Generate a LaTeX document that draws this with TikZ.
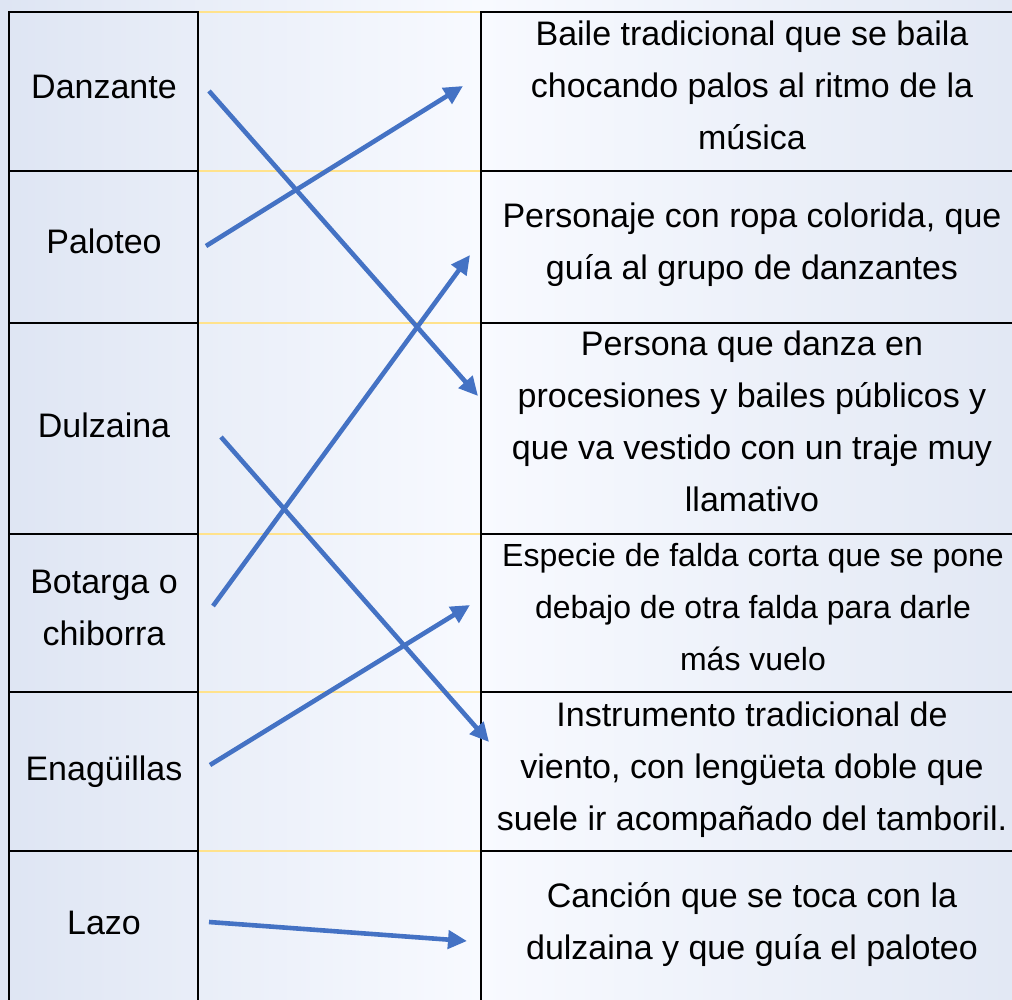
\documentclass[tikz,border=0pt]{standalone}
\usepackage{fontspec}
\setmainfont{Liberation Sans}
\usetikzlibrary{arrows.meta}
\definecolor{bgl}{RGB}{222,229,243}
\definecolor{bgm}{RGB}{248,250,255}
\definecolor{bgr}{RGB}{226,232,244}
\definecolor{gridyellow}{RGB}{255,226,140}
\definecolor{arrowblue}{RGB}{68,114,196}
\begin{document}
\begin{tikzpicture}[x=1pt,y=-1pt,
  cell/.style={font=\fontsize{34}{52}\selectfont, align=center, inner sep=0pt, text=black},
  border/.style={black, line width=2pt},
  rowline/.style={gridyellow, line width=2pt},
  link/.style={arrowblue, line width=4.6pt, -{Triangle[length=19pt,width=18pt]}}]
\useasboundingbox (0,0) rectangle (1012,999);
% background
\fill[left color=bgl, right color=bgm] (0,0) rectangle (481,999);
\fill[left color=bgm, right color=bgr] (481,0) rectangle (1012,999);
\begin{scope}
\clip (0,0) rectangle (1012,999);
% yellow row lines in the middle column
\foreach \y in {12,171,323,534,692,851}
  \draw[rowline] (198,\y) -- (481,\y);
% black grid
\foreach \y in {12,171,323,534,692,851} {
  \draw[border] (8,\y) -- (199,\y);
  \draw[border] (480,\y) -- (1020,\y);
}
\draw[border] (9,11) -- (9,1010);
\draw[border] (198,11) -- (198,1010);
\draw[border] (481,11) -- (481,1010);
\end{scope}
% left column words
\node[cell] (w1) at (104,87.6) {\strut Danzante};
\node[cell] (w2) at (104,242.6) {\strut Paloteo};
\node[cell] (w3) at (104,426.6) {\strut Dulzaina};
\node[cell] (w4) at (104,608.6) {\strut Botarga o\\\strut chiborra};
\node[cell] (w5) at (104,769.6) {\strut Enagüillas};
\node[cell] (w6) at (104,923.6) {\strut Lazo};
% right column definitions
\node[cell] (d1) at (752,86.6) {\strut Baile tradicional que se baila\\chocando palos al ritmo de la\\\strut música};
\node[cell] (d2) at (752,243.1) {\strut Personaje con ropa colorida, que\\\strut guía al grupo de danzantes};
\node[cell] (d3) at (752,423.1) {\strut Persona que danza en\\procesiones y bailes públicos y\\que va vestido con un traje muy\\\strut llamativo};
\node[cell, font=\fontsize{32}{52}\selectfont] (d4) at (753,608.1) {\strut Especie de falda corta que se pone\\debajo de otra falda para darle\\\strut más vuelo};
\node[cell] (d5) at (752,768.1) {\strut Instrumento tradicional de\\viento, con lengüeta doble que\\\strut suele ir acompañado del tamboril.};
\node[cell] (d6) at (752,923.1) {\strut Canción que se toca con la\\\strut dulzaina y que guía el paloteo};
% connector end points
\coordinate (s1) at (209,91);   \coordinate (e1) at (478,396);
\coordinate (s2) at (206,246);  \coordinate (e2) at (463,86);
\coordinate (s3) at (213,606);  \coordinate (e3) at (470,255);
\coordinate (s4) at (221,437);  \coordinate (e4) at (489,742);
\coordinate (s5) at (210,765);  \coordinate (e5) at (470,605);
\coordinate (s6) at (209,922);  \coordinate (e6) at (467,941);
\foreach \i in {1,...,6}
  \draw[link] (s\i) -- (e\i);
\end{tikzpicture}
\end{document}
